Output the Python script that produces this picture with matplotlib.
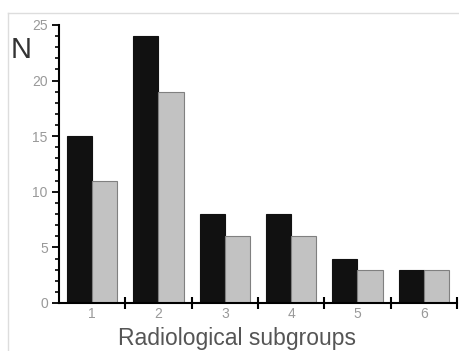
import matplotlib
matplotlib.use("Agg")
import matplotlib.pyplot as plt
from matplotlib.lines import Line2D
import numpy as np

plt.rcParams["font.family"] = ["Liberation Sans", "DejaVu Sans"]

groups = ["1", "2", "3", "4", "5", "6"]
dark_values = [15, 24, 8, 8, 4, 3]
light_values = [11, 19, 6, 6, 3, 3]

fig = plt.figure(figsize=(4.59, 3.51), dpi=100)
ax = fig.add_axes([0.1285, 0.1368, 0.867, 0.792])

# faint frame around the scanned figure
fig.add_artist(Line2D([8 / 459, 458 / 459], [1 - 13 / 351] * 2, color="#dddddd", lw=1))
fig.add_artist(Line2D([8 / 459] * 2, [0, 1 - 13 / 351], color="#dddddd", lw=1))

x = np.arange(1, len(groups) + 1)
w = 0.38
ax.bar(x - w / 2, dark_values, w, color="#111111", edgecolor="#111111", lw=0.8)
ax.bar(x + w / 2, light_values, w, color="#c2c2c2", edgecolor="#808080", lw=0.8)

ax.set_xlim(0.5, 6.5)
ax.set_ylim(0, 25)
ax.spines["top"].set_visible(False)
ax.spines["right"].set_visible(False)
ax.spines["left"].set_linewidth(1.5)
ax.spines["bottom"].set_linewidth(1.5)

ax.set_yticks([0, 5, 10, 15, 20, 25])
ax.set_yticks(np.arange(0, 26, 1), minor=True)
ax.tick_params(axis="y", which="major", length=5, width=1.3, labelsize=10, labelcolor="#999999", pad=3)
ax.tick_params(axis="y", which="minor", length=3, width=1.2)

# group labels at centres, ticks at group boundaries
ax.set_xticks(np.arange(1.5, 7, 1))
ax.set_xticklabels([])
ax.set_xticks(x, minor=True)
ax.set_xticklabels(groups, minor=True)
ax.tick_params(axis="x", which="major", direction="inout", length=8, width=1.5)
ax.tick_params(axis="x", which="minor", length=0, labelsize=10, labelcolor="#999999", pad=3)

ax.set_xlabel("Radiological subgroups", fontsize=16.5, color="#555555")
ax.xaxis.set_label_coords(0.447, -0.088, transform=ax.transAxes)
ax.xaxis.label.set_va("top")
fig.text(21 / 459, 1 - 50 / 351, "N", fontsize=21, color="#333333", ha="center", va="center")

fig.savefig("out.png", dpi=100)
